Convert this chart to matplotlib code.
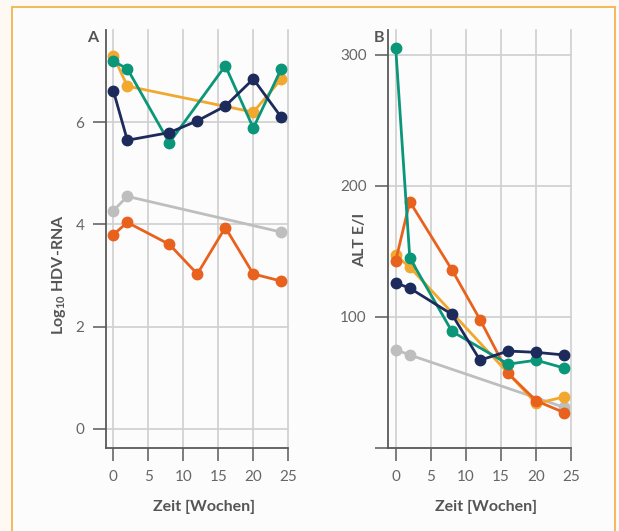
import matplotlib
matplotlib.use("Agg")
import matplotlib.pyplot as plt
from matplotlib.patches import Rectangle

plt.rcParams['font.family'] = ['Lato', 'DejaVu Sans']
plt.rcParams['mathtext.fontset'] = 'custom'
plt.rcParams['mathtext.rm'] = 'Lato'
plt.rcParams['mathtext.bf'] = 'Lato:bold'

# Colours of the five patients
C_YELLOW = '#F2A72E'
C_GREEN = '#0A9678'
C_NAVY = '#1C2B5C'
C_GRAY = '#BEBEBE'
C_ORANGE = '#E8621E'

# Panel A: log10 HDV-RNA over time
a_gray_x = [0, 2, 24]
a_gray_y = [4.27, 4.55, 3.85]
a_orange_x = [0, 2, 8, 12, 16, 20, 24]
a_orange_y = [3.80, 4.04, 3.61, 3.03, 3.94, 3.03, 2.89]
a_yellow_x = [0, 2, 20, 24]
a_yellow_y = [7.30, 6.71, 6.20, 6.85]
a_green_x = [0, 2, 8, 16, 20, 24]
a_green_y = [7.20, 7.05, 5.60, 7.11, 5.89, 7.05]
a_navy_x = [0, 2, 8, 12, 16, 20, 24]
a_navy_y = [6.62, 5.65, 5.80, 6.03, 6.32, 6.85, 6.10]

# Panel B: ALT (U/l) over time
b_gray_x = [0, 2, 24]
b_gray_y = [75, 71, 31]
b_yellow_x = [0, 2, 20, 24]
b_yellow_y = [147, 138, 34, 39]
b_orange_x = [0, 2, 8, 12, 16, 20, 24]
b_orange_y = [143, 188, 136, 98, 57, 36, 27]
b_green_x = [0, 2, 8, 16, 20, 24]
b_green_y = [305, 145, 89, 64, 67, 61]
b_navy_x = [0, 2, 8, 12, 16, 20, 24]
b_navy_y = [126, 122, 102, 67, 74, 73, 71]

x_ticks = [0, 5, 10, 15, 20, 25]
a_yticks = [0, 2, 4, 6]
b_yticks = [0, 100, 200, 300]
b_ytick_labels = ['', '100', '200', '300']

W, H = 619, 531
fig = plt.figure(figsize=(W / 100, H / 100), dpi=100)
fig.patch.set_facecolor('#FEF9F2')

# framed card behind both panels
fig.patches.append(Rectangle((12 / W, -0.05), (615 - 12) / W, (H - 7) / H + 0.05,
                             transform=fig.transFigure, facecolor='#FCFCFC',
                             edgecolor='#F4B54C', lw=1.3, zorder=-10))

def px_axes(left, right, top, bottom):
    return fig.add_axes([left / W, 1 - bottom / H, (right - left) / W, (bottom - top) / H])

SPINE = '#5A5A5A'
GRID = '#CFCFCF'
TICKLAB = '#666666'

def style(ax):
    ax.set_facecolor('none')
    for s in ['top', 'right']:
        ax.spines[s].set_visible(False)
    for s in ['left', 'bottom']:
        ax.spines[s].set_color(SPINE)
        ax.spines[s].set_linewidth(1.3)
    ax.grid(True, color=GRID, lw=1.2)
    ax.set_axisbelow(True)
    ax.tick_params(length=9.5, width=1.1, color=SPINE, labelcolor=TICKLAB,
                   labelsize=11, pad=6)
    ax.set_xticks(x_ticks)
    for gl in ax.get_xgridlines() + ax.get_ygridlines():
        gl.set_clip_on(False)

def series(ax, x, y, c):
    ax.plot(x, y, '-o', color=c, lw=2.0, ms=7.5, mec=c, clip_on=False)

axA = px_axes(106, 288.3, 30, 448)
style(axA)
axA.set_xlim(-1.05, 25)
axA.set_ylim(-0.38, 7.81)
axA.set_yticks(a_yticks)
series(axA, a_gray_x, a_gray_y, C_GRAY)
series(axA, a_orange_x, a_orange_y, C_ORANGE)
series(axA, a_yellow_x, a_yellow_y, C_YELLOW)
series(axA, a_green_x, a_green_y, C_GREEN)
series(axA, a_navy_x, a_navy_y, C_NAVY)

axB = px_axes(388.3, 571.3, 30, 448)
style(axB)
axB.set_xlim(-1.06, 25)
axB.set_ylim(0, 319)
axB.set_yticks(b_yticks)
axB.set_yticklabels(b_ytick_labels)
series(axB, b_gray_x, b_gray_y, C_GRAY)
series(axB, b_yellow_x, b_yellow_y, C_YELLOW)
series(axB, b_orange_x, b_orange_y, C_ORANGE)
series(axB, b_green_x, b_green_y, C_GREEN)
series(axB, b_navy_x, b_navy_y, C_NAVY)

LAB = '#555555'
LSIZE = 11.5
fig.text(93 / W, 1 - 38 / H, 'A', ha='center', va='center', fontsize=LSIZE,
         fontweight='bold', color=LAB)
fig.text(379 / W, 1 - 38 / H, 'B', ha='center', va='center', fontsize=LSIZE,
         fontweight='bold', color=LAB)

fig.text(59 / W, 1 - 275 / H, r'Log$_{\mathregular{10}}$ HDV-RNA', rotation=90,
         ha='center', va='center', fontsize=LSIZE, fontweight='bold', color=LAB)
fig.text(360 / W, 1 - 239.5 / H, 'ALT E/I', rotation=90,
         ha='center', va='center', fontsize=LSIZE, fontweight='bold', color=LAB)

fig.text(204.5 / W, 1 - 507 / H, 'Zeit [Wochen]', ha='center', va='center',
         fontsize=LSIZE, fontweight='bold', color=LAB)
fig.text(486.5 / W, 1 - 507 / H, 'Zeit [Wochen]', ha='center', va='center',
         fontsize=LSIZE, fontweight='bold', color=LAB)

fig.savefig('out.png', dpi=100, facecolor=fig.get_facecolor())
